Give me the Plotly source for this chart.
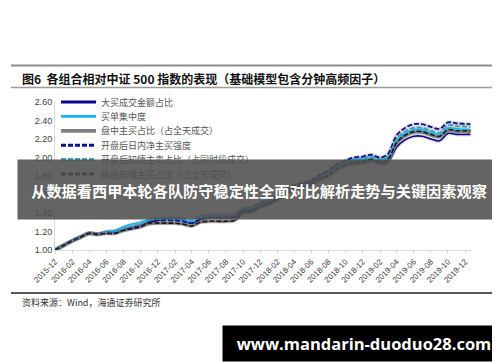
import plotly.graph_objects as go

W, H = 500, 362

dates = [
    "2015-12-01", "2016-01-01", "2016-02-01", "2016-03-01", "2016-04-01", "2016-05-01",
    "2016-06-01", "2016-07-01", "2016-08-01", "2016-09-01", "2016-10-01", "2016-11-01",
    "2016-12-01", "2017-01-01", "2017-02-01", "2017-03-01", "2017-04-01", "2017-05-01",
    "2017-06-01", "2017-07-01", "2017-08-01", "2017-09-01", "2017-10-01", "2017-11-01",
    "2017-12-01", "2018-01-01", "2018-02-01", "2018-03-01", "2018-04-01", "2018-05-01",
    "2018-06-01", "2018-07-01", "2018-08-01", "2018-09-01", "2018-10-01", "2018-11-01",
    "2018-12-01", "2019-01-01", "2019-02-01", "2019-03-01", "2019-04-01", "2019-05-01",
    "2019-06-01", "2019-07-01", "2019-08-01", "2019-09-01", "2019-10-01", "2019-11-01",
    "2019-12-20",
]

big_buy_amount = [
    1.00, 1.05, 1.10, 1.14, 1.18, 1.17, 1.19,
    1.19, 1.22, 1.24, 1.26, 1.30, 1.32,
    1.33, 1.33, 1.32, 1.29, 1.33, 1.35, 1.35, 1.35, 1.36,
    1.42, 1.43, 1.48, 1.51, 1.56, 1.62, 1.67, 1.69, 1.72, 1.77, 1.81, 1.88,
    1.91, 1.93, 1.94, 1.96, 1.93, 1.95,
    2.11, 2.19, 2.23, 2.23, 2.20, 2.18, 2.26, 2.25, 2.25,
]
buy_concentration = [
    1.00, 1.05, 1.10, 1.14, 1.18, 1.17, 1.20,
    1.21, 1.25, 1.28, 1.30, 1.33, 1.33,
    1.33, 1.33, 1.32, 1.30, 1.34, 1.36, 1.36, 1.36, 1.37,
    1.44, 1.45, 1.50, 1.53, 1.58, 1.64, 1.69, 1.71, 1.74, 1.80, 1.84, 1.91,
    1.95, 1.98, 1.99, 2.01, 1.98, 2.01,
    2.18, 2.26, 2.30, 2.30, 2.27, 2.25, 2.32, 2.31, 2.30,
]
intraday_active_buy = [
    1.00, 1.05, 1.10, 1.14, 1.18, 1.17, 1.18,
    1.18, 1.21, 1.23, 1.25, 1.28, 1.29,
    1.29, 1.29, 1.28, 1.26, 1.30, 1.31, 1.31, 1.31, 1.32,
    1.40, 1.41, 1.46, 1.49, 1.54, 1.60, 1.65, 1.67, 1.70, 1.76, 1.80, 1.87,
    1.91, 1.94, 1.95, 1.97, 1.94, 1.97,
    2.15, 2.23, 2.27, 2.27, 2.24, 2.22, 2.29, 2.28, 2.28,
]
open_net_buy_strength = [
    1.00, 1.05, 1.10, 1.14, 1.18, 1.17, 1.19,
    1.19, 1.22, 1.24, 1.27, 1.31, 1.32,
    1.32, 1.32, 1.31, 1.29, 1.33, 1.35, 1.35, 1.35, 1.36,
    1.44, 1.46, 1.51, 1.54, 1.59, 1.65, 1.70, 1.72, 1.75, 1.81, 1.86, 1.93,
    1.97, 2.00, 2.01, 2.03, 2.00, 2.04,
    2.24, 2.32, 2.36, 2.36, 2.33, 2.31, 2.38, 2.37, 2.36,
]
open_informed_sell = [
    1.00, 1.05, 1.10, 1.14, 1.18, 1.17, 1.19,
    1.20, 1.23, 1.26, 1.28, 1.32, 1.34,
    1.35, 1.35, 1.34, 1.32, 1.36, 1.38, 1.38, 1.38, 1.39,
    1.45, 1.46, 1.50, 1.53, 1.58, 1.63, 1.68, 1.70, 1.73, 1.79, 1.83, 1.90,
    1.94, 1.97, 1.98, 2.00, 1.97, 2.00,
    2.20, 2.28, 2.32, 2.32, 2.29, 2.27, 2.35, 2.34, 2.33,
]
close_informed_buy = [
    1.00, 1.05, 1.10, 1.14, 1.18, 1.17, 1.18,
    1.18, 1.21, 1.23, 1.25, 1.29, 1.29,
    1.29, 1.29, 1.28, 1.26, 1.30, 1.31, 1.31, 1.31, 1.32,
    1.41, 1.42, 1.47, 1.50, 1.55, 1.61, 1.66, 1.68, 1.71, 1.77, 1.81, 1.88,
    1.92, 1.95, 1.96, 1.98, 1.95, 1.98,
    2.16, 2.24, 2.28, 2.28, 2.25, 2.23, 2.30, 2.29, 2.29,
]

series_names = [
    "大买成交金额占比",
    "买单集中度",
    "盘中主买占比（占全天成交）",
    "开盘后日内净主买强度",
    "开盘后知情主卖占比（占同时段成交）",
    "尾盘知情主买占比（占全天成交）",
]
series_values = [big_buy_amount, buy_concentration, intraday_active_buy,
                 open_net_buy_strength, open_informed_sell, close_informed_buy]
series_colors = ["#0A0A8C", "#12B4EE", "#808080", "#10108F", "#3E9DB8", "#1A1A1A"]
series_widths = [1.6, 1.6, 2.6, 1.8, 1.8, 1.6]
series_dash = ["solid", "solid", "solid", "5px,2px", "5px,2px", "5px,2px"]

y_ticks = [1.00, 1.20, 1.40, 1.60, 1.80, 2.00, 2.20, 2.40, 2.60]

title_text = "图6  各组合相对中证 500 指数的表现（基础模型包含分钟高频因子）"
source_text = "资料来源：Wind，海通证券研究所"
overlay_text = "从数据看西甲本轮各队防守稳定性全面对比解析走势与关键因素观察"
watermark_text = "www.mandarin-duoduo28.com"


def px(x):
    return x / W


def py(y):
    return 1 - y / H


fig = go.Figure()

# soft shadow beneath lines
for vals in series_values:
    fig.add_trace(go.Scatter(
        x=dates, y=vals, mode="lines", line_shape="spline",
        line=dict(color="rgba(0,0,0,0.12)", width=4),
        showlegend=False, hoverinfo="skip"))

for name, vals, col, wd, ds in zip(series_names, series_values, series_colors,
                                   series_widths, series_dash):
    fig.add_trace(go.Scatter(
        x=dates, y=vals, mode="lines", name=name, line_shape="spline",
        line=dict(color=col, width=wd, dash=ds), showlegend=False))

shapes = [
    dict(type="line", xref="paper", yref="paper", x0=px(3), x1=px(494),
         y0=py(57.5), y1=py(57.5), line=dict(color="#8c8c8c", width=2.2)),
    dict(type="line", xref="paper", yref="paper", x0=px(3), x1=px(494),
         y0=py(79.5), y1=py(79.5), line=dict(color="#9a9a9a", width=1.5)),
    dict(type="line", xref="paper", yref="paper", x0=px(3), x1=px(494),
         y0=py(285), y1=py(285), line=dict(color="#222222", width=1.4)),
]

annotations = [
    dict(text=title_text, xref="paper", yref="paper", x=px(12), y=py(70),
         xanchor="left", yanchor="middle", showarrow=False,
         font=dict(family="Noto Sans CJK SC", size=12, color="#111111", weight="bold")),
    dict(text=source_text, xref="paper", yref="paper", x=px(12), y=py(294),
         xanchor="left", yanchor="middle", showarrow=False,
         font=dict(family="Noto Sans CJK SC", size=9, color="#333333")),
]

# manual legend (compact spacing as in reference)
for i, (name, col, wd, ds) in enumerate(zip(series_names, series_colors,
                                            series_widths, series_dash)):
    yy = 94 + i * 14.4
    shapes.append(dict(type="line", xref="paper", yref="paper", x0=px(53), x1=px(88),
                       y0=py(yy), y1=py(yy),
                       line=dict(color=col, width=wd + 1.2, dash=ds)))
    annotations.append(dict(text=name, xref="paper", yref="paper", x=px(91), y=py(yy),
                            xanchor="left", yanchor="middle", showarrow=False,
                            font=dict(family="Noto Sans CJK SC", size=9, color="#555555")))

annotations.append(dict(
    text="<b>" + overlay_text + "</b>", xref="paper", yref="paper",
    x=px(251), y=py(181.5), xanchor="center", yanchor="middle", showarrow=False,
    width=482, height=59, bgcolor="rgba(78,78,78,0.88)", borderpad=0,
    font=dict(family="Noto Sans CJK SC", size=15.2, color="#ffffff")))

annotations.append(dict(
    text="<b>" + watermark_text + "</b>", xref="paper", yref="paper",
    x=px(356), y=py(335.5), xanchor="center", yanchor="middle", showarrow=False,
    width=282, height=35, bgcolor="#000000", borderpad=0,
    font=dict(family="Open Sans", size=16.5, color="#ffffff")))

fig.update_layout(
    width=W, height=H,
    margin=dict(l=0, r=0, t=0, b=0),
    paper_bgcolor="#ffffff", plot_bgcolor="#ffffff",
    showlegend=False,
    shapes=shapes, annotations=annotations,
    xaxis=dict(
        domain=[px(47), px(463)], type="date",
        range=["2015-12-01", "2019-12-22"],
        tick0="2015-12-01", dtick="M2", tickformat="%Y-%m", tickangle=-45,
        showline=True, linecolor="#d9d9d9", linewidth=1,
        ticks="outside", ticklen=3, tickcolor="#d9d9d9",
        showgrid=False, zeroline=False, automargin=False,
        tickfont=dict(family="Liberation Sans", size=8, color="#404040"),
    ),
    yaxis=dict(
        domain=[py(242), py(94)], range=[1.0, 2.6],
        tickvals=y_ticks, tickformat=".2f",
        showline=True, linecolor="#d9d9d9", linewidth=1,
        ticks="", showgrid=False, zeroline=False, automargin=False,
        tickfont=dict(family="Liberation Sans", size=9, color="#404040"),
    ),
)

fig.write_html("out.html")
